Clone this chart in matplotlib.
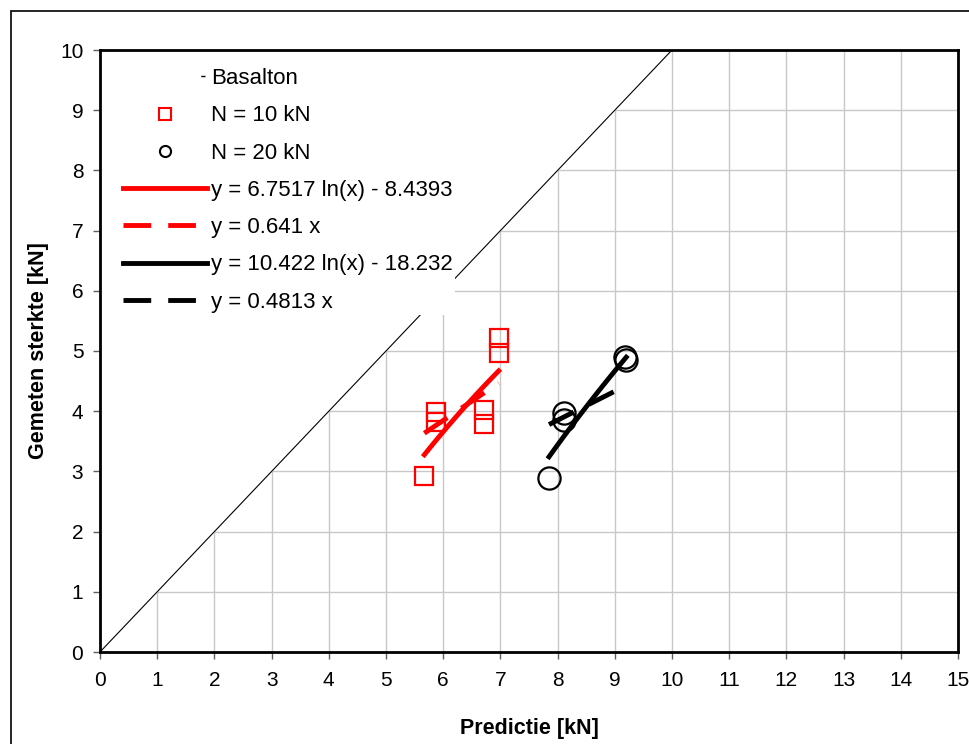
import matplotlib
matplotlib.use('Agg')
import matplotlib.pyplot as plt
from matplotlib.lines import Line2D
from matplotlib.patches import Rectangle
import numpy as np

plt.rcParams['font.family'] = ['Liberation Sans', 'DejaVu Sans']

# data
pred_10 = [5.67, 5.88, 5.88, 6.72, 6.72, 6.97, 6.97]
meas_10 = [2.93, 3.99, 3.82, 4.02, 3.79, 5.22, 4.97]
pred_20 = [7.85, 8.12, 8.12, 9.18, 9.20]
meas_20 = [2.89, 3.97, 3.85, 4.90, 4.85]

# Basalton 1:1 reference
basalton_x = [0, 10]
basalton_y = [0, 10]

# trendline coefficients (from legend)
log_10 = (6.7517, -8.4393)
lin_10 = 0.641
log_20 = (10.422, -18.232)
lin_20 = 0.4813

labels = ['Basalton', 'N = 10 kN', 'N = 20 kN',
          'y = 6.7517 ln(x) - 8.4393', 'y = 0.641 x',
          'y = 10.422 ln(x) - 18.232', 'y = 0.4813 x']

DASH = (0, (5.7, 3.5))

W, H = 970, 744
fig = plt.figure(figsize=(W/100, H/100), dpi=100)
ax = fig.add_axes([100/W, 1-652/H, 858/W, 602/H])

# outer frame of the chart area
fig.patches.append(Rectangle((11/W, -0.1), 1.2, 1-11/H+0.1, transform=fig.transFigure,
                             fill=False, edgecolor='black', linewidth=1.2))

# area above the 1:1 line is white (hides grid), then the line itself
ax.fill_between(basalton_x, basalton_y, 10, color='white', linewidth=0, zorder=1)
ax.plot(basalton_x, basalton_y, color='black', linewidth=0.8, zorder=2)

ax.plot(pred_10, meas_10, linestyle='none', marker='s', markersize=13,
        markerfacecolor='none', markeredgecolor='red', markeredgewidth=1.6, zorder=4)
ax.plot(pred_20, meas_20, linestyle='none', marker='o', markersize=16,
        markerfacecolor='none', markeredgecolor='black', markeredgewidth=1.6, zorder=4)

x10 = np.linspace(min(pred_10), max(pred_10), 50)
x20 = np.linspace(min(pred_20), max(pred_20), 50)
ax.plot(x10, log_10[0]*np.log(x10) + log_10[1], color='red', linewidth=3.5, zorder=3)
ax.plot(x10, lin_10*x10, color='red', linewidth=3.5, linestyle=DASH, zorder=3)
ax.plot(x20, log_20[0]*np.log(x20) + log_20[1], color='black', linewidth=3.5, zorder=3)
ax.plot(x20, lin_20*x20, color='black', linewidth=3.5, linestyle=DASH, zorder=3)

ax.set_xlim(0, 15)
ax.set_ylim(0, 10)
ax.set_xticks(range(0, 16))
ax.set_yticks(range(0, 11))
ax.grid(True, color='#c8c8c8', linewidth=1, zorder=0.5)
ax.set_axisbelow(True)
for s in ax.spines.values():
    s.set_linewidth(2)
    s.set_zorder(6)
ax.tick_params(direction='out', length=5, width=1, color='#606060', labelsize=15)
ax.tick_params(axis='x', pad=9)
ax.tick_params(axis='y', pad=7)

ax.set_xlabel('Predictie [kN]', fontsize=15.5, fontweight='bold', labelpad=20)
ax.set_ylabel('Gemeten sterkte [kN]', fontsize=15.5, fontweight='bold', labelpad=8)

# legend handles as drawn by the original
handles = [
    Line2D([], [], color='black', linewidth=1, linestyle=(0, (0, 56, 3, 100))),
    Line2D([], [], linestyle='none', marker='s', markersize=8,
           markerfacecolor='none', markeredgecolor='red', markeredgewidth=1.5),
    Line2D([], [], linestyle='none', marker='o', markersize=8,
           markerfacecolor='none', markeredgecolor='black', markeredgewidth=1.5),
    Line2D([], [], color='red', linewidth=3.5),
    Line2D([], [], color='red', linewidth=3.5, linestyle=DASH),
    Line2D([], [], color='black', linewidth=3.5),
    Line2D([], [], color='black', linewidth=3.5, linestyle=DASH),
]
leg = ax.legend(handles, labels, loc='upper left', bbox_to_anchor=(0.006, 1.0),
                fontsize=16, frameon=True, framealpha=1, fancybox=False,
                handlelength=3.75, labelspacing=0.73, borderpad=0.1,
                borderaxespad=0.72, handletextpad=0.2)
leg.get_frame().set_linewidth(0)
leg.set_zorder(5)

plt.savefig('out.png', dpi=100)
